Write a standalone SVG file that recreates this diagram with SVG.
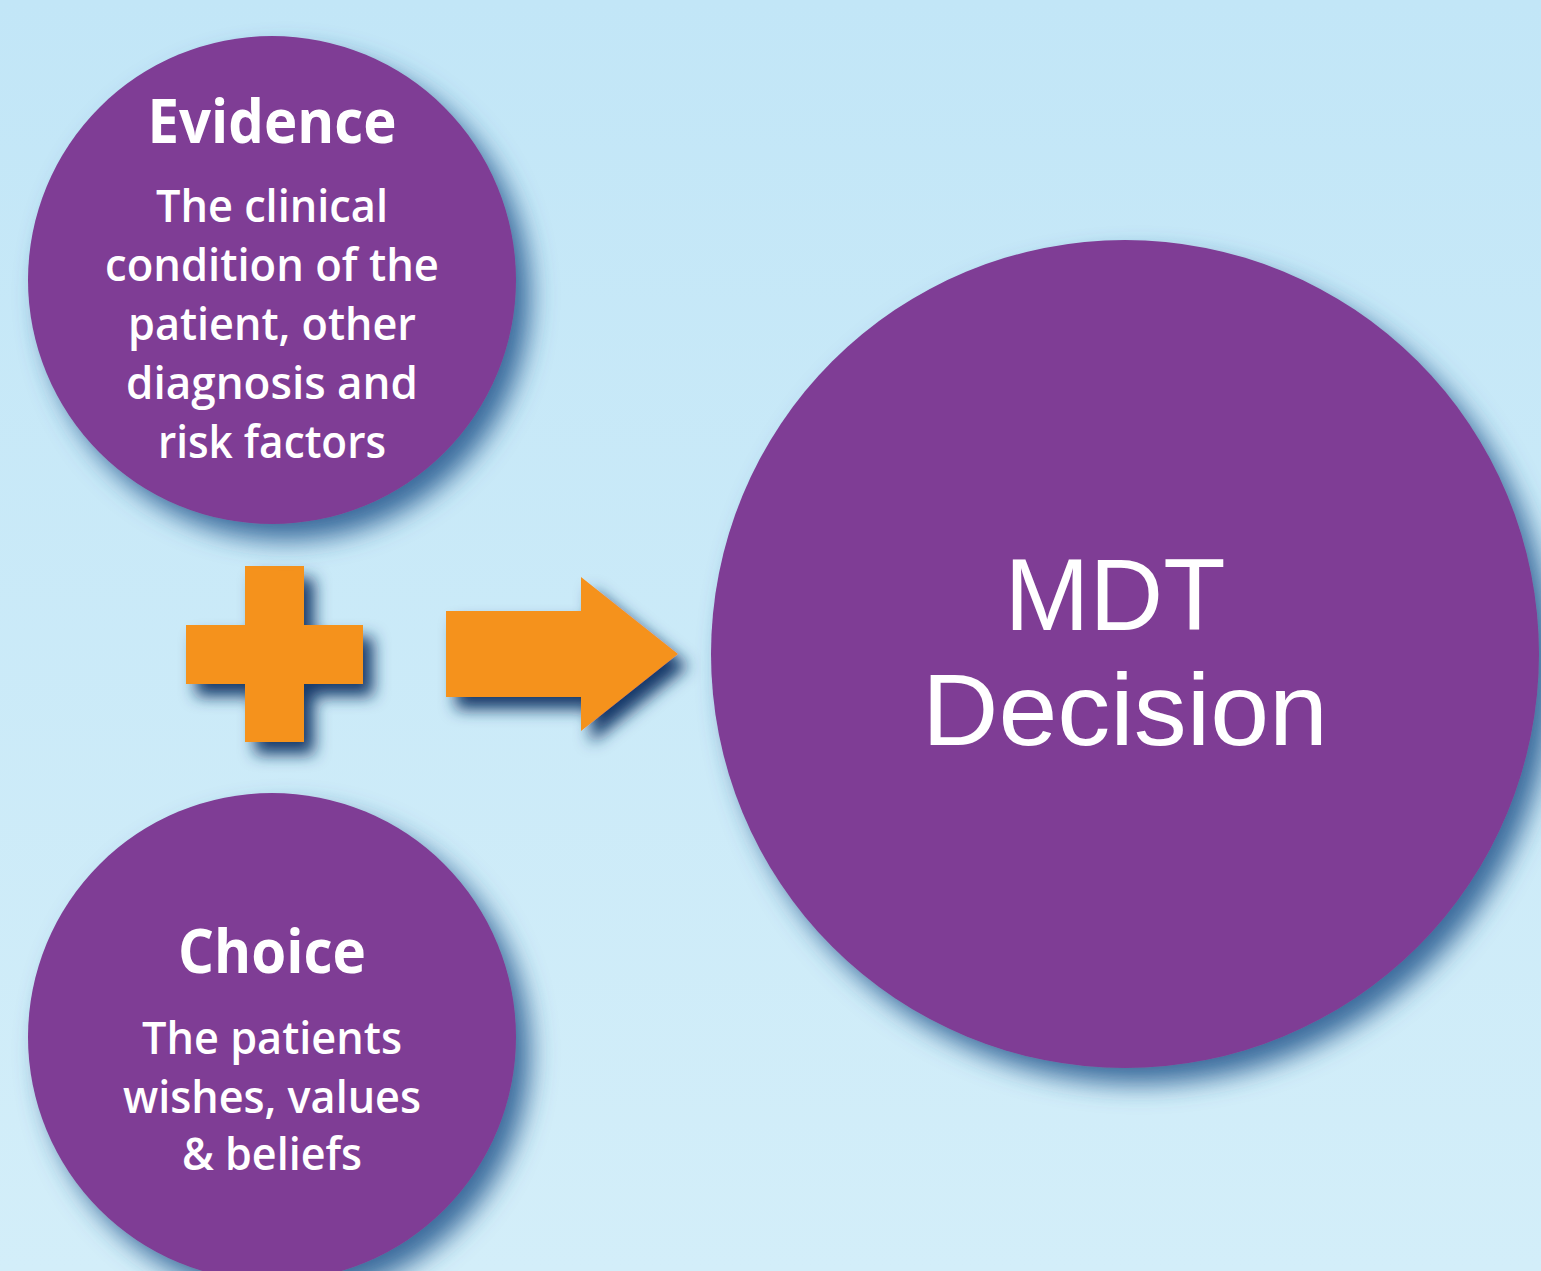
<svg xmlns="http://www.w3.org/2000/svg" width="1541" height="1271" viewBox="0 0 1541 1271">
  <defs>
    <linearGradient id="bg" x1="0" y1="0" x2="0" y2="1">
      <stop offset="0" stop-color="#c2e6f7"/>
      <stop offset="1" stop-color="#d3eef9"/>
    </linearGradient>
    <filter id="shadowBig" x="-20%" y="-20%" width="150%" height="150%">
      <feGaussianBlur in="SourceAlpha" stdDeviation="13"/>
      <feOffset dx="14" dy="16" result="b"/>
      <feFlood flood-color="#2a5d92" flood-opacity="0.9"/>
      <feComposite in2="b" operator="in"/>
      <feMerge><feMergeNode/><feMergeNode in="SourceGraphic"/></feMerge>
    </filter>
    <filter id="shadowSmall" x="-30%" y="-30%" width="170%" height="170%">
      <feGaussianBlur in="SourceAlpha" stdDeviation="8"/>
      <feOffset dx="10" dy="12" result="b"/>
      <feFlood flood-color="#163a6a" flood-opacity="1"/>
      <feComposite in2="b" operator="in"/>
      <feMerge><feMergeNode/><feMergeNode in="SourceGraphic"/></feMerge>
    </filter>
  </defs>
  <style>
    .node { fill: #7f3d95; filter: url(#shadowBig); }
    .op { fill: #f5921e; filter: url(#shadowSmall); }
    .title { font-family: "Open Sans", "Liberation Sans", sans-serif; font-weight: 700; fill: #ffffff; text-anchor: middle; font-size: 60px; }
    .body { font-family: "Open Sans", "Liberation Sans", sans-serif; font-weight: 600; fill: #ffffff; text-anchor: middle; font-size: 46px; }
    .big { font-family: "Liberation Sans", "Open Sans", sans-serif; font-weight: 400; fill: #ffffff; text-anchor: middle; font-size: 102px; }
  </style>
  <rect x="0" y="0" width="1541" height="1271" fill="url(#bg)"/>

  <g id="connectors">
    <path class="op" d="M245,566 H304 V625 H363 V684 H304 V742 H245 V684 H186 V625 H245 Z"/>
    <path class="op" d="M446,611 H581 V577 L678,654 L581,731 V697 H446 Z"/>
  </g>

  <g id="evidence">
    <circle class="node" cx="272" cy="280" r="244"/>
    <text class="title" x="272" y="143" textLength="249" lengthAdjust="spacingAndGlyphs">Evidence</text>
    <text class="body" x="272" y="222" textLength="232" lengthAdjust="spacingAndGlyphs">The clinical</text>
    <text class="body" x="272" y="281" textLength="334" lengthAdjust="spacingAndGlyphs">condition of the</text>
    <text class="body" x="272" y="340" textLength="288" lengthAdjust="spacingAndGlyphs">patient, other</text>
    <text class="body" x="272" y="399" textLength="292" lengthAdjust="spacingAndGlyphs">diagnosis and</text>
    <text class="body" x="272" y="458" textLength="228" lengthAdjust="spacingAndGlyphs">risk factors</text>
  </g>

  <g id="choice">
    <circle class="node" cx="272" cy="1037" r="244"/>
    <text class="title" x="272" y="973" textLength="188" lengthAdjust="spacingAndGlyphs">Choice</text>
    <text class="body" x="272" y="1054" textLength="260" lengthAdjust="spacingAndGlyphs">The patients</text>
    <text class="body" x="272" y="1113" textLength="298" lengthAdjust="spacingAndGlyphs">wishes, values</text>
    <text class="body" x="272" y="1170" textLength="180" lengthAdjust="spacingAndGlyphs">&amp; beliefs</text>
  </g>

  <g id="mdt-decision">
    <circle class="node" cx="1125" cy="654" r="414"/>
    <text class="big" x="1115" y="630" textLength="221" lengthAdjust="spacingAndGlyphs">MDT</text>
    <text class="big" x="1125" y="745" textLength="406" lengthAdjust="spacingAndGlyphs">Decision</text>
  </g>
</svg>
